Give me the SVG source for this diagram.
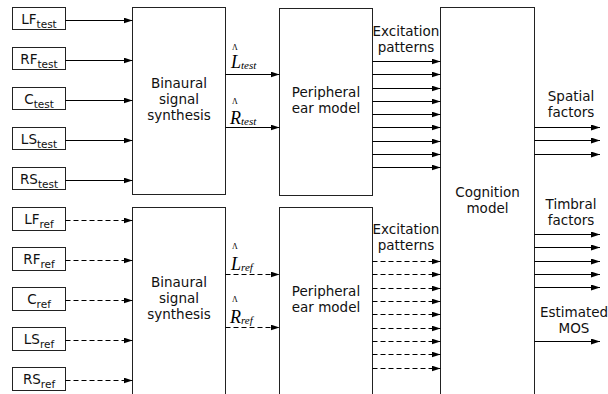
<svg xmlns="http://www.w3.org/2000/svg" width="608" height="394" viewBox="0 0 608 394">
<defs>
<marker id="ah" markerUnits="userSpaceOnUse" markerWidth="9" markerHeight="6" refX="9" refY="3" orient="auto" viewBox="0 0 9 6">
<path d="M0,0 L9,3 L0,6 z" fill="#000"/>
</marker>
</defs>
<style>
.box{fill:#fff;stroke:#222;stroke-width:1}
.t{font-family:"DejaVu Sans",Verdana,sans-serif;font-size:13.5px;fill:#111;text-anchor:middle}
.sub{font-size:10.5px}
.m{font-family:"Liberation Serif","Times New Roman",serif;font-style:italic;fill:#000}
.hat{font-family:"Liberation Serif","Times New Roman",serif;font-size:8px;fill:#000;text-anchor:middle}
.c{stroke:#000;stroke-width:1;fill:none;marker-end:url(#ah)}
.d{stroke-dasharray:5,3}
</style>
<rect width="608" height="394" fill="#fff"/>

<g id="LF_test"><rect class="box" x="12.5" y="7.5" width="53" height="22"/><text class="t" x="39" y="24">LF<tspan class="sub" dy="4">test</tspan></text></g>
<g id="RF_test"><rect class="box" x="12.5" y="47.5" width="53" height="22"/><text class="t" x="39" y="64">RF<tspan class="sub" dy="4">test</tspan></text></g>
<g id="C_test"><rect class="box" x="12.5" y="87.5" width="53" height="22"/><text class="t" x="39" y="104">C<tspan class="sub" dy="4">test</tspan></text></g>
<g id="LS_test"><rect class="box" x="12.5" y="127.5" width="53" height="22"/><text class="t" x="39" y="144">LS<tspan class="sub" dy="4">test</tspan></text></g>
<g id="RS_test"><rect class="box" x="12.5" y="167.5" width="53" height="22"/><text class="t" x="39" y="184">RS<tspan class="sub" dy="4">test</tspan></text></g>

<g id="LF_ref"><rect class="box" x="12.5" y="207.5" width="53" height="23"/><text class="t" x="39" y="224">LF<tspan class="sub" dy="4">ref</tspan></text></g>
<g id="RF_ref"><rect class="box" x="12.5" y="247.5" width="53" height="23"/><text class="t" x="39" y="264">RF<tspan class="sub" dy="4">ref</tspan></text></g>
<g id="C_ref"><rect class="box" x="12.5" y="287.5" width="53" height="23"/><text class="t" x="39" y="304">C<tspan class="sub" dy="4">ref</tspan></text></g>
<g id="LS_ref"><rect class="box" x="12.5" y="327.5" width="53" height="23"/><text class="t" x="39" y="344">LS<tspan class="sub" dy="4">ref</tspan></text></g>
<g id="RS_ref"><rect class="box" x="12.5" y="367.5" width="53" height="23"/><text class="t" x="39" y="384">RS<tspan class="sub" dy="4">ref</tspan></text></g>

<g id="binaural_test"><rect class="box" x="132.5" y="7.5" width="93" height="187"/>
<text class="t" x="179" y="88">Binaural</text><text class="t" x="179" y="104">signal</text><text class="t" x="179" y="120">synthesis</text></g>
<g id="binaural_ref"><rect class="box" x="132.5" y="207.5" width="93" height="200"/>
<text class="t" x="179" y="287">Binaural</text><text class="t" x="179" y="303">signal</text><text class="t" x="179" y="319">synthesis</text></g>

<g id="peripheral_test"><rect class="box" x="279.5" y="8.5" width="93" height="187"/>
<text class="t" x="326" y="97">Peripheral</text><text class="t" x="326" y="113">ear model</text></g>
<g id="peripheral_ref"><rect class="box" x="279.5" y="207.5" width="93" height="200"/>
<text class="t" x="326" y="296">Peripheral</text><text class="t" x="326" y="312">ear model</text></g>

<g id="cognition"><rect class="box" x="440.5" y="7.5" width="94" height="400"/>
<text class="t" x="487.5" y="197">Cognition</text><text class="t" x="487.5" y="213">model</text></g>

<g id="connectors">
<line class="c" x1="65.5" y1="20.5" x2="132.5" y2="20.5"/>
<line class="c" x1="65.5" y1="60.5" x2="132.5" y2="60.5"/>
<line class="c" x1="65.5" y1="100.5" x2="132.5" y2="100.5"/>
<line class="c" x1="65.5" y1="140.5" x2="132.5" y2="140.5"/>
<line class="c" x1="65.5" y1="180.5" x2="132.5" y2="180.5"/>
<line class="c d" x1="65.5" y1="220.5" x2="132.5" y2="220.5"/>
<line class="c d" x1="65.5" y1="260.5" x2="132.5" y2="260.5"/>
<line class="c d" x1="65.5" y1="300.5" x2="132.5" y2="300.5"/>
<line class="c d" x1="65.5" y1="340.5" x2="132.5" y2="340.5"/>
<line class="c d" x1="65.5" y1="380.5" x2="132.5" y2="380.5"/>

<line class="c" x1="225.5" y1="74.5" x2="279.5" y2="74.5"/>
<line class="c" x1="225.5" y1="127.5" x2="279.5" y2="127.5"/>
<line class="c d" x1="225.5" y1="274.5" x2="279.5" y2="274.5"/>
<line class="c d" x1="225.5" y1="327.5" x2="279.5" y2="327.5"/>

<line class="c" x1="372.5" y1="61.5" x2="440.5" y2="61.5"/>
<line class="c" x1="372.5" y1="74.5" x2="440.5" y2="74.5"/>
<line class="c" x1="372.5" y1="88.5" x2="440.5" y2="88.5"/>
<line class="c" x1="372.5" y1="101.5" x2="440.5" y2="101.5"/>
<line class="c" x1="372.5" y1="114.5" x2="440.5" y2="114.5"/>
<line class="c" x1="372.5" y1="127.5" x2="440.5" y2="127.5"/>
<line class="c" x1="372.5" y1="141.5" x2="440.5" y2="141.5"/>
<line class="c" x1="372.5" y1="154.5" x2="440.5" y2="154.5"/>
<line class="c" x1="372.5" y1="167.5" x2="440.5" y2="167.5"/>

<line class="c d" x1="372.5" y1="261.5" x2="440.5" y2="261.5"/>
<line class="c d" x1="372.5" y1="274.5" x2="440.5" y2="274.5"/>
<line class="c d" x1="372.5" y1="288.5" x2="440.5" y2="288.5"/>
<line class="c d" x1="372.5" y1="301.5" x2="440.5" y2="301.5"/>
<line class="c d" x1="372.5" y1="314.5" x2="440.5" y2="314.5"/>
<line class="c d" x1="372.5" y1="328.5" x2="440.5" y2="328.5"/>
<line class="c d" x1="372.5" y1="341.5" x2="440.5" y2="341.5"/>
<line class="c d" x1="372.5" y1="354.5" x2="440.5" y2="354.5"/>
<line class="c d" x1="372.5" y1="368.5" x2="440.5" y2="368.5"/>

<line class="c" x1="534.5" y1="127.5" x2="600" y2="127.5"/>
<line class="c" x1="534.5" y1="140.5" x2="600" y2="140.5"/>
<line class="c" x1="534.5" y1="154.5" x2="600" y2="154.5"/>
<line class="c" x1="534.5" y1="234.5" x2="600" y2="234.5"/>
<line class="c" x1="534.5" y1="247.5" x2="600" y2="247.5"/>
<line class="c" x1="534.5" y1="261.5" x2="600" y2="261.5"/>
<line class="c" x1="534.5" y1="274.5" x2="600" y2="274.5"/>
<line class="c" x1="534.5" y1="287.5" x2="600" y2="287.5"/>
<line class="c" x1="534.5" y1="341.5" x2="600" y2="341.5"/>
</g>

<g id="labels">
<text class="hat" x="235" y="50">Λ</text>
<text class="m" x="231" y="68" font-size="18">L<tspan font-size="11" dy="1">test</tspan></text>
<text class="hat" x="235" y="104">Λ</text>
<text class="m" x="230" y="124" font-size="18">R<tspan font-size="11" dy="1">test</tspan></text>
<text class="hat" x="235" y="249">Λ</text>
<text class="m" x="231" y="270" font-size="18">L<tspan font-size="11" dy="1">ref</tspan></text>
<text class="hat" x="235" y="302">Λ</text>
<text class="m" x="230" y="323" font-size="18">R<tspan font-size="11" dy="1">ref</tspan></text>

<text class="t" x="406" y="36">Excitation</text><text class="t" x="406" y="52">patterns</text>
<text class="t" x="406" y="234">Excitation</text><text class="t" x="406" y="250">patterns</text>
<text class="t" x="571" y="101">Spatial</text><text class="t" x="571" y="117">factors</text>
<text class="t" x="571" y="209">Timbral</text><text class="t" x="571" y="225">factors</text>
<text class="t" x="574" y="317">Estimated</text><text class="t" x="574" y="333">MOS</text>
</g>
</svg>
